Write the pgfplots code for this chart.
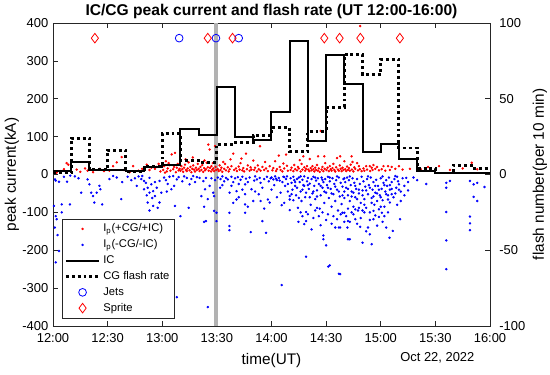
\documentclass[border=0pt]{standalone}
\usepackage{pgfplots}
\pgfplotsset{compat=1.18}
\usepackage{fontspec}
\setmainfont{Liberation Sans}
\pgfplotsset{
  markleg/.style={legend image code/.code={\draw[##1, only marks] plot coordinates {(12.5pt,0pt)};}},
  lineleg/.style={legend image code/.code={\draw[##1] (0pt,0pt) -- (25pt,0pt);}},
}
\begin{document}
\begin{tikzpicture}
\pgfplotsset{
  base/.style={
    width=327.75pt, height=227.25pt, scale only axis,
    at={(0,0)}, anchor=south west,
    xmin=0, xmax=240,
    axis line style={draw=black!85, line width=0.5pt},
    tick style={draw=black!85, line width=0.5pt},
    major tick length=4pt,
    tick align=inside,
    ticklabel style={font=\fontsize{9.7}{11}\selectfont},
    /pgf/number format/assume math mode=true,
    label style={font=\fontsize{11.5}{13}\selectfont},
  }
}
\begin{axis}[base, clip=false,
  ymin=-400, ymax=400, ytick={-400,-300,...,400},
  xtick={0,30,...,240},
  xticklabels={12:00,12:30,13:00,13:30,14:00,14:30,15:00,15:30,16:00},
  xtick pos=both, ytick pos=left,
  xticklabel style={yshift=-2pt},
  title={IC/CG peak current and flash rate (UT 12:00-16:00)},
  title style={font=\bfseries\fontsize{11.7}{13}\selectfont, anchor=center, yshift=2.6pt},
  xlabel={time(UT)},
  xlabel style={at={(axis description cs:0.5,0)}, anchor=center, yshift=-26pt},
  ylabel={peak current(kA)},
  ylabel style={at={(axis description cs:0,0.5)}, anchor=center, yshift=30.75pt},
]
\addplot[black!30, line width=3.5pt, forget plot] coordinates {(89.5,-400)(89.5,400)};
% positive peak currents
\addplot[only marks, mark=*, red, mark size=0.7pt] coordinates {
(2,5)(4,9)(7.5,30)(8.4,26)(6,14)(13,13)(17.6,16)(15,7)(19,10)(22,6)(25.8,15)(28,9)(31,10)(33,22)(35,32)(37.7,46)(39,12)(42,6)(44,22)(47,10)(49,15)(51.5,26)(53,12)(54,18)(56,15)(57,20)(59,8)(58,28)
(60.5,12)(61,22)(62,35)(62.5,8)(63,16)(64,25)(64.5,10)(65.2,53)(66,14)(66.5,20)(67,57)(67.5,6)(68,18)(68.5,28)(69,11)(69.5,15)(61.5,5)(63.5,30)
(70,10)(70.5,22)(71,14)(71.5,7)(72,18)(72.5,26)(73,12)(73.5,9)(74,16)(74.5,32)(75,11)(75.5,20)(76,6)(76.5,15)(77,24)(77.5,13)(78,8)(78.5,18)(79,12)(79.5,28)(72.8,40)(76.8,45)
(80,15)(80.5,9)(81,20)(81.5,12)(82,25)(82.5,7)(83,17)(83.5,11)(84,14)(84.4,31)(85,19)(85.3,79)(85.5,10)(86,66)(86.2,17.5)(86.8,8)(87,22)(87.5,13)(88,16)(88.5,9)(89,75)(89.3,20)(89.6,12)(83.2,37)(87.8,30)
(90.5,14)(91,9)(91.5,24)(92,12)(92.5,18)(93,7)(94,15)(94.5,28)(95,11)(96,19)(96.5,8)(97,14)(97.5,40)(98,22)(99,55)(99.5,12)(93.5,33)
(100.5,16)(101,9)(102,21)(102.5,13)(103,30)(104,11)(104.5,17)(105,8)(106,55)(106.5,14)(107,24)(108,10)(108.5,19)(109,13)(110,36.8)(103.5,42)
(110.5,12)(111,18)(112,8)(112.5,24)(113,14)(113.7,74.6)(114,10)(115,20)(116,12)(117,16)(118,9)(119,22)(116.5,33)
(120.5,11)(121,17)(122,35)(122.5,9)(123,14)(124,50)(124.5,20)(125,12)(126,8)(127,16)(128,52.6)(128.5,23)(129,10)(126.5,29)
(130.5,12)(131,18)(132,9)(132.5,25)(133,14)(134,11)(134.5,20)(135,16)(136,8)(136.5,28)(137,13)(137.5,48)(138,19)(138.5,10)(139,15)(139.5,22)(135.5,38)
(140.2,13)(140.8,9)(141,41)(141.5,17)(142,11)(142.5,22)(143,14)(143.5,8)(144,18)(144.5,12)(145,25)(145.6,48)(145.5,10)(146,16)(147,115)(147.5,13)(148,20)(148.5,9)(149,48)(149.5,30)(146.5,7)(149.2,15)
(150.2,12)(150.8,18)(151.5,9)(152,22)(152.5,14)(153,10)(153.5,17)(154,28)(154.5,12)(155,8)(155.5,19)(156,43.5)(156.5,13)(157,10)(157.7,48)(157.5,24)(158,15)(158.5,9)(159,18)(159.5,12)(160,35)
(160.5,14)(161,9)(161.5,21)(162,12)(162.5,17)(163,10)(163.5,26)(164,48)(164.2,13)(165,8)(165.5,19)(166,15)(167,30)(167.5,11)(168,22)(168.5,14)(168.7,392)(169.5,9)(164.5,33)
(170.5,16)(171,10)(172,22)(172.5,13)(174,22)(174.2,9)(175,18)(175.5,12)(176,25)(177,15)(178,20)(179,11)
(180.5,14)(181.5,22)(182.5,10)(184,22)(185,12)(186,20)(188,15)(190,22)
(192,13)(196,15)(202,14)(206,20)(212,22)(218,12)(225,16)(230,31)(233,14)
};
% negative peak currents
\addplot[only marks, mark=*, blue, mark size=0.7pt] coordinates {
(1.1,-13)(1.5,-16)(3.3,-19)(6,-6)(7.7,-19)(9.5,-3)(15.5,-48)(19,-13)(20,-26)(21,-48)(22,-57)(24,-48)(25.5,-30)(26,-39)(22.7,-74)(27,-79)(0.5,-83)(4.8,-79)(9.3,-79)(1.5,-110)(2,-118)(3.3,-202)(1.5,-232)(12,-5)(14,-10)(4.8,-100)(2.5,-160)(1,-140)
(33,-4)(37.5,-65)(31,-12)(35,-8)(38,-20)(41,-6)(43,-15)(45,-10)(47,-5)(46,-30)
(49,-4)(50,-17)(52,-35)(53,-48)(54,-26)(55,-44)(56,-57)(57,-35)(52,-74)(55,-83)(58.5,-74)(57.5,-88)(51,-22)(50,-39)(58.5,-17)(53,-9)(59.5,-48)(53,-95)(48.5,-12)(56,-20)(54.5,-62)(51.5,-55)
(61,-8)(62,-15)(63,-25)(64,-6)(66,-4)(65,-39)(68,-13)(67,-83)(70,-110)(73.5,-9)(75,-26)(77,-4)(80.5,-9)(81.5,-57)(84,-123)(84,-9)(74.5,-88)(86,-30)(85,-65)(68,-324)(85,-350)(82.6,-17.5)(83.5,-39)(83,-85)(83,-125)(88,-48)(88.5,-57)(88.5,-96)(89.8,-101)(89.8,-123)(71,-18)(72,-5)(76,-12)(78,-20)(79,-7)(87,-10)(89,-15)(69,-7)(66.5,-30)(62.5,-45)
(91.8,-35)(96,-13)(97,-48)(96.9,-101)(96.9,-136)(96.9,-147)(100.8,-44)(100.8,-66)(105.5,-26)(105.5,-52)(105.5,-79)(105.5,-101)(108.6,-152)(109,-39)(110,-70)(112,-13)(113,-52)(115,-35)(115,-123)(117,-154)(118,-66)(119,-74)(121,-13)(125,-48)(125.6,-81)(125.6,-292)(130,-57)(130,-66)(130,-94)
(90.5,-8)(92,-12)(93,-5)(94,-18)(95,-9)(98,-6)(99,-20)(100,-10)(101.5,-7)(102,-25)(103,-14)(104,-6)(106,-11)(107,-20)(108,-8)(110.5,-16)(111,-5)(113.5,-9)(114,-22)(116,-12)(117.5,-6)(118.5,-18)(120,-8)(121.5,-28)(122,-5)(123,-15)(124,-9)(126,-20)(127,-7)(128,-12)(129,-25)(119.5,-10)(122.5,-11)(124.5,-16)(126.5,-6)(127.5,-30)(128.5,-5)
(98,-30)(102,-60)(104,-40)(107,-85)(111,-45)(114,-70)(116,-90)(120,-40)(123,-60)(127,-75)(129,-45)(93,-28)(99,-75)
(134.8,-125)(138,-131)(139,-99)(139,-217)(139,-123)(142,-145)(145,-88)(147,-134)(148.5,-161)(148.5,-171)(150,-187)(151.2,-243)(155,-140)(157,-140)(157,-262)(159,-101)(162,-123)(162,-171)(152,-240)
(130.5,-10)(131,-22)(131.5,-40)(132,-6)(132.5,-15)(133,-30)(133.5,-55)(134,-35)(134,-12)(135,-8)(135.5,-20)(136,-45)(136.5,-70)(137,-14)(137.5,-28)(138,-30)(138,-5)(138.5,-60)(139.5,-18)(140,-9)(140.5,-38)(141,-24)(141.5,-80)(142,-12)(142.5,-50)(143,-6)(143.5,-30)(144,-65)(144.5,-16)(145,-42)(145.5,-10)(146,-25)(146.5,-90)(147,-55)(147.5,-8)(148,-35)(148.5,-20)(149,-75)(149.5,-12)(150,-48)(150.5,-28)(151,-6)(151.5,-62)(152,-18)(152.5,-38)(153,-85)(153.5,-10)(154,-52)(154.5,-25)(155,-70)(155.5,-15)(156,-40)(156.5,-95)(157,-8)(157.5,-58)(158,-22)(158.5,-78)(159,-32)(159.5,-12)(160,-45)
(132,-68)(134.5,-88)(136,-100)(137,-110)(140,-105)(143,-115)(144,-95)(146,-110)(148,-100)(150,-120)(151,-105)(153,-130)(154,-110)(156,-118)(158,-105)(160,-125)
(131,-52)(133,-20)(135,-62)(137,-40)(139,-48)(141,-60)(143,-45)(145,-58)(147,-30)(149,-45)(151,-35)(153,-50)(155,-32)(157,-45)(159,-55)(136,-5)(140,-28)(144,-8)(148,-14)(152,-8)(156,-5)(160,-10)
(157.7,-140)(160,-101)(161.7,-140)(163,-171)(166,-118)(168.7,-138)(170,-180)(173,-140)(174,-158)(175,-184)(176,-118)(180.6,-101)(183,-52)(184,-66)(186,-52)(185,-74)(186.6,-149)(184.8,-167)(190.6,-118)(190,-26)(188,-4)(194,-9)(157.7,-263)
(160.5,-20)(161,-35)(161.5,-8)(162,-55)(162.5,-15)(163,-70)(163.5,-28)(164,-45)(164.5,-10)(165,-85)(165.5,-22)(166,-60)(166.5,-38)(167,-12)(167.5,-95)(168,-50)(168.5,-25)(169,-75)(169.5,-6)(170,-42)(170.5,-18)(171,-65)(171.5,-32)(172,-88)(172.5,-12)(173,-52)(173.5,-28)(174,-100)(174.5,-8)(175,-62)(175.5,-40)(176,-20)(176.5,-80)(177,-48)(177.5,-14)(178,-70)(178.5,-30)(179,-92)(179.5,-55)(180,-10)(180.5,-38)(181,-68)(181.5,-22)(182,-85)(182.5,-45)(183,-15)(183.5,-30)(184,-100)(184.5,-8)(185,-40)(186,-20)(187,-60)(187.5,-12)(188.5,-35)(189,-80)(189.5,-18)(191,-45)(192,-10)(193,-30)(195,-20)
(161,-110)(163,-125)(165,-105)(167,-130)(169,-115)(171,-100)(172,-150)(174,-120)(177,-108)(178,-135)(179,-112)(181,-125)(182,-110)(183,-140)(162,-90)(164,-100)(166,-92)(168,-88)(170,-95)(176,-96)(180,-85)
(160,-62)(162,-38)(164,-58)(166,-30)(168,-40)(170,-55)(172,-42)(174,-35)(176,-58)(178,-50)(180,-60)(182,-28)(184,-55)(186,-38)(188,-50)(190,-40)(165,-48)(171,-80)(175,-75)(179,-40)(163,-5)(167,-65)(173,-5)(177,-30)(181,-5)(185,-28)(189,-6)(191,-70)(193,-55)(195,-42)
(216,-22)(216,-35)(216,-99)(216,-174)(216,-250)(218,-17)(229,-17)(231,-26)(233,-70)(231,-59)(229,-111)(229,-129)(229,-147)(237,-33)(233,-22)(200,-15)(205,-25)(198,-8)
};
% jets
\addplot[only marks, mark=o, blue, mark size=2.9pt, mark options={line width=0.6pt}] coordinates {(69.3,360)(89.5,360)(102,360)};
% sprites
\addplot[only marks, mark=diamond, red, mark size=3.6pt, mark options={line width=0.6pt}] coordinates {(23,360)(85,360)(98.6,360)(149,360)(157.4,360)(168.8,360)(190.5,360)};
\node[anchor=east, font=\fontsize{9.7}{11}\selectfont] at (rel axis cs:0.975,0) [yshift=-24pt] {Oct 22, 2022};
\end{axis}
\begin{axis}[base,
  ymin=-100, ymax=100, ytick={-100,-50,0,50,100},
  axis y line*=right, axis x line=none,
  yticklabel style={xshift=3.5pt},
  ylabel={flash number(per 10 min)},
  ylabel style={at={(axis description cs:1,0.5)}, anchor=center, yshift=-37.5pt},
  legend cell align=left,
  legend style={at={(0.021,0.026)}, anchor=south west, draw=black!85, fill=white,
    font=\fontsize{8.4}{10}\selectfont, row sep=0.4pt, inner sep=1.5pt},
]
\addlegendimage{red, mark=*, mark size=0.7pt, markleg}
\addlegendentry{I\textsubscript{p}(+CG/+IC)}
\addlegendimage{blue, mark=*, mark size=0.7pt, markleg}
\addlegendentry{I\textsubscript{p}(-CG/-IC)}
\addplot[const plot, black, line width=1.5pt, lineleg] coordinates {
(0,2)(10,8)(20,3)(30,3)(40,2)(50,5)(60,6)(70,30)(80,26)(90,58)(100,25)(110,23)(120,41)(130,88)(140,22)(150,79)(160,60)(170,15)(180,20)(190,10)(200,2)(210,1)(220,1)(230,1)(240,1)};
\addlegendentry{IC}
\addplot[const plot, black, line width=2.2pt, dash pattern=on 2.2pt off 2.2pt, lineleg] coordinates {
(0,1)(10,24)(20,3)(30,16)(40,2)(50,5)(60,27)(70,9)(80,8)(90,20)(100,21)(110,26)(120,31)(130,15)(140,28.5)(150,44.5)(160,79)(170,66)(180,76)(190,17.5)(200,4)(210,1)(220,6)(230,4)(240,4)};
\addlegendentry{CG flash rate}
\addlegendimage{blue, mark=o, mark size=2.9pt, mark options={line width=0.6pt}, markleg}
\addlegendentry{Jets}
\addlegendimage{red, mark=diamond, mark size=3.6pt, mark options={line width=0.6pt}, markleg}
\addlegendentry{Sprite}
\end{axis}
\pgfresetboundingbox
\useasboundingbox (-39.75pt,-36.75pt) rectangle (372.75pt,244.5pt);
\end{tikzpicture}
\end{document}
